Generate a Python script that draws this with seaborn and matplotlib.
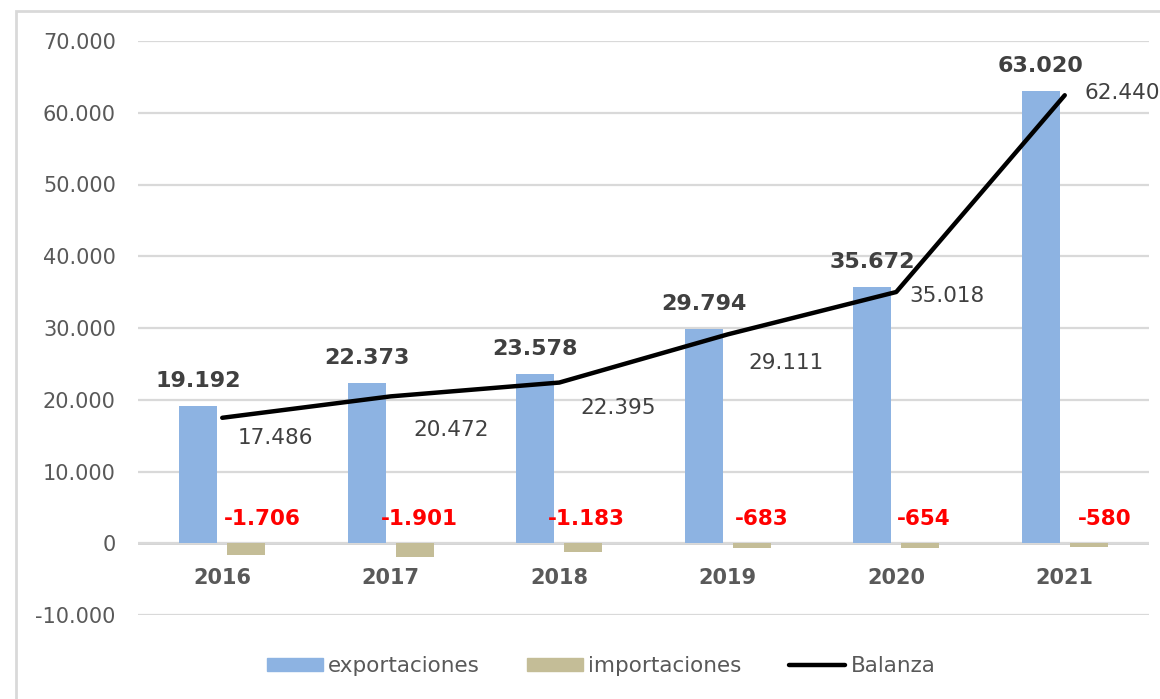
import numpy as np
import pandas as pd
import matplotlib.pyplot as plt
import seaborn as sns
from matplotlib.patches import Patch, Rectangle
from matplotlib.lines import Line2D

years = ['2016', '2017', '2018', '2019', '2020', '2021']
exportaciones = [19192, 22373, 23578, 29794, 35672, 63020]
importaciones = [-1706, -1901, -1183, -683, -654, -580]
balanza = [17486, 20472, 22395, 29111, 35018, 62440]

# label nudges in pixels (dx, dy)
bal_offsets = [(53, -20), (60, -34), (59, -25), (58, -29), (51, -4), (58, 2)]
imp_offsets = [16, 5, 3, 10, 4, 16]

blue = '#8DB3E2'
tan = '#C4BD97'
grey_txt = '#595959'
dark_txt = '#404040'

df = pd.DataFrame({
    'year': years * 2,
    'valor': exportaciones + importaciones,
    'serie': ['exportaciones'] * len(years) + ['importaciones'] * len(years),
})

sns.set_style('white')
plt.rcParams['font.family'] = ['DejaVu Sans']

fig = plt.figure(figsize=(11.6, 6.99), dpi=100)
ax = fig.add_axes([138 / 1160, 1 - 615 / 699, (1149 - 138) / 1160, (615 - 41) / 699])

sns.barplot(data=df, x='year', y='valor', hue='serie', palette=[blue, tan],
            width=0.568, gap=0.206, legend=False, ax=ax, saturation=1,
            linewidth=0)
sns.lineplot(x=np.arange(len(years)), y=balanza, color='black', lw=3.2, ax=ax,
             solid_capstyle='round')

ax.set_xlim(-0.5, len(years) - 0.5)
ax.set_ylim(-10000, 70000)
ticks = np.arange(-10000, 70001, 10000)
ax.set_yticks(ticks)
ax.set_yticklabels([f'{t:,.0f}'.replace(',', '.') for t in ticks],
                   fontsize=15, color=grey_txt)
ax.tick_params(axis='y', length=0, pad=16)
ax.set_xticks([])
ax.set_xlabel('')
ax.set_ylabel('')
for s in ax.spines.values():
    s.set_visible(False)
ax.yaxis.grid(True, color='#D9D9D9', lw=1.6)
ax.axhline(0, color='#D0D0D0', lw=2, zorder=0.5)
ax.set_axisbelow(True)

# year labels sitting between 0 and -10.000
for i, y in enumerate(years):
    ax.text(i, -4900, y, ha='center', va='center', fontsize=15,
            fontweight='bold', color=grey_txt)

exp_bars = ax.containers[0]
imp_bars = ax.containers[1]
px = 72 / 100
for i, b in enumerate(exp_bars):
    cx = b.get_x() + b.get_width() / 2
    ax.annotate(f'{exportaciones[i]:,}'.replace(',', '.'), (cx, b.get_height()),
                xytext=(0, 25 * px), textcoords='offset points', ha='center',
                va='center', fontsize=16, fontweight='bold', color=dark_txt)
for i, b in enumerate(imp_bars):
    cx = b.get_x() + b.get_width() / 2
    ax.annotate(f'{importaciones[i]:,}'.replace(',', '.'), (cx, 0),
                xytext=(imp_offsets[i] * px, 24 * px), textcoords='offset points',
                ha='center', va='center', fontsize=15.5, fontweight='bold',
                color='#FF0000')
for i, v in enumerate(balanza):
    dx, dy = bal_offsets[i]
    ax.annotate(f'{v:,}'.replace(',', '.'), (i, v),
                xytext=(dx * px, dy * px), textcoords='offset points',
                ha='center', va='center', fontsize=15.5, color=dark_txt,
                annotation_clip=False)

handles = [Patch(color=blue, label='exportaciones'),
           Patch(color=tan, label='importaciones'),
           Line2D([], [], color='black', lw=3.2, label='Balanza')]
fig.legend(handles=handles, loc='center', bbox_to_anchor=(601 / 1160, 1 - 666 / 699),
           ncol=3, frameon=False, fontsize=15.5, handlelength=2.6,
           handleheight=0.55, handletextpad=0.25, columnspacing=2.2,
           labelcolor=grey_txt)

fig.patches.append(Rectangle((16 / 1160, -0.05), 1.1, 1 - 11 / 699 + 0.05,
                             transform=fig.transFigure, fill=False,
                             edgecolor='#D9D9D9', lw=2))

fig.savefig('out.png', dpi=100)
